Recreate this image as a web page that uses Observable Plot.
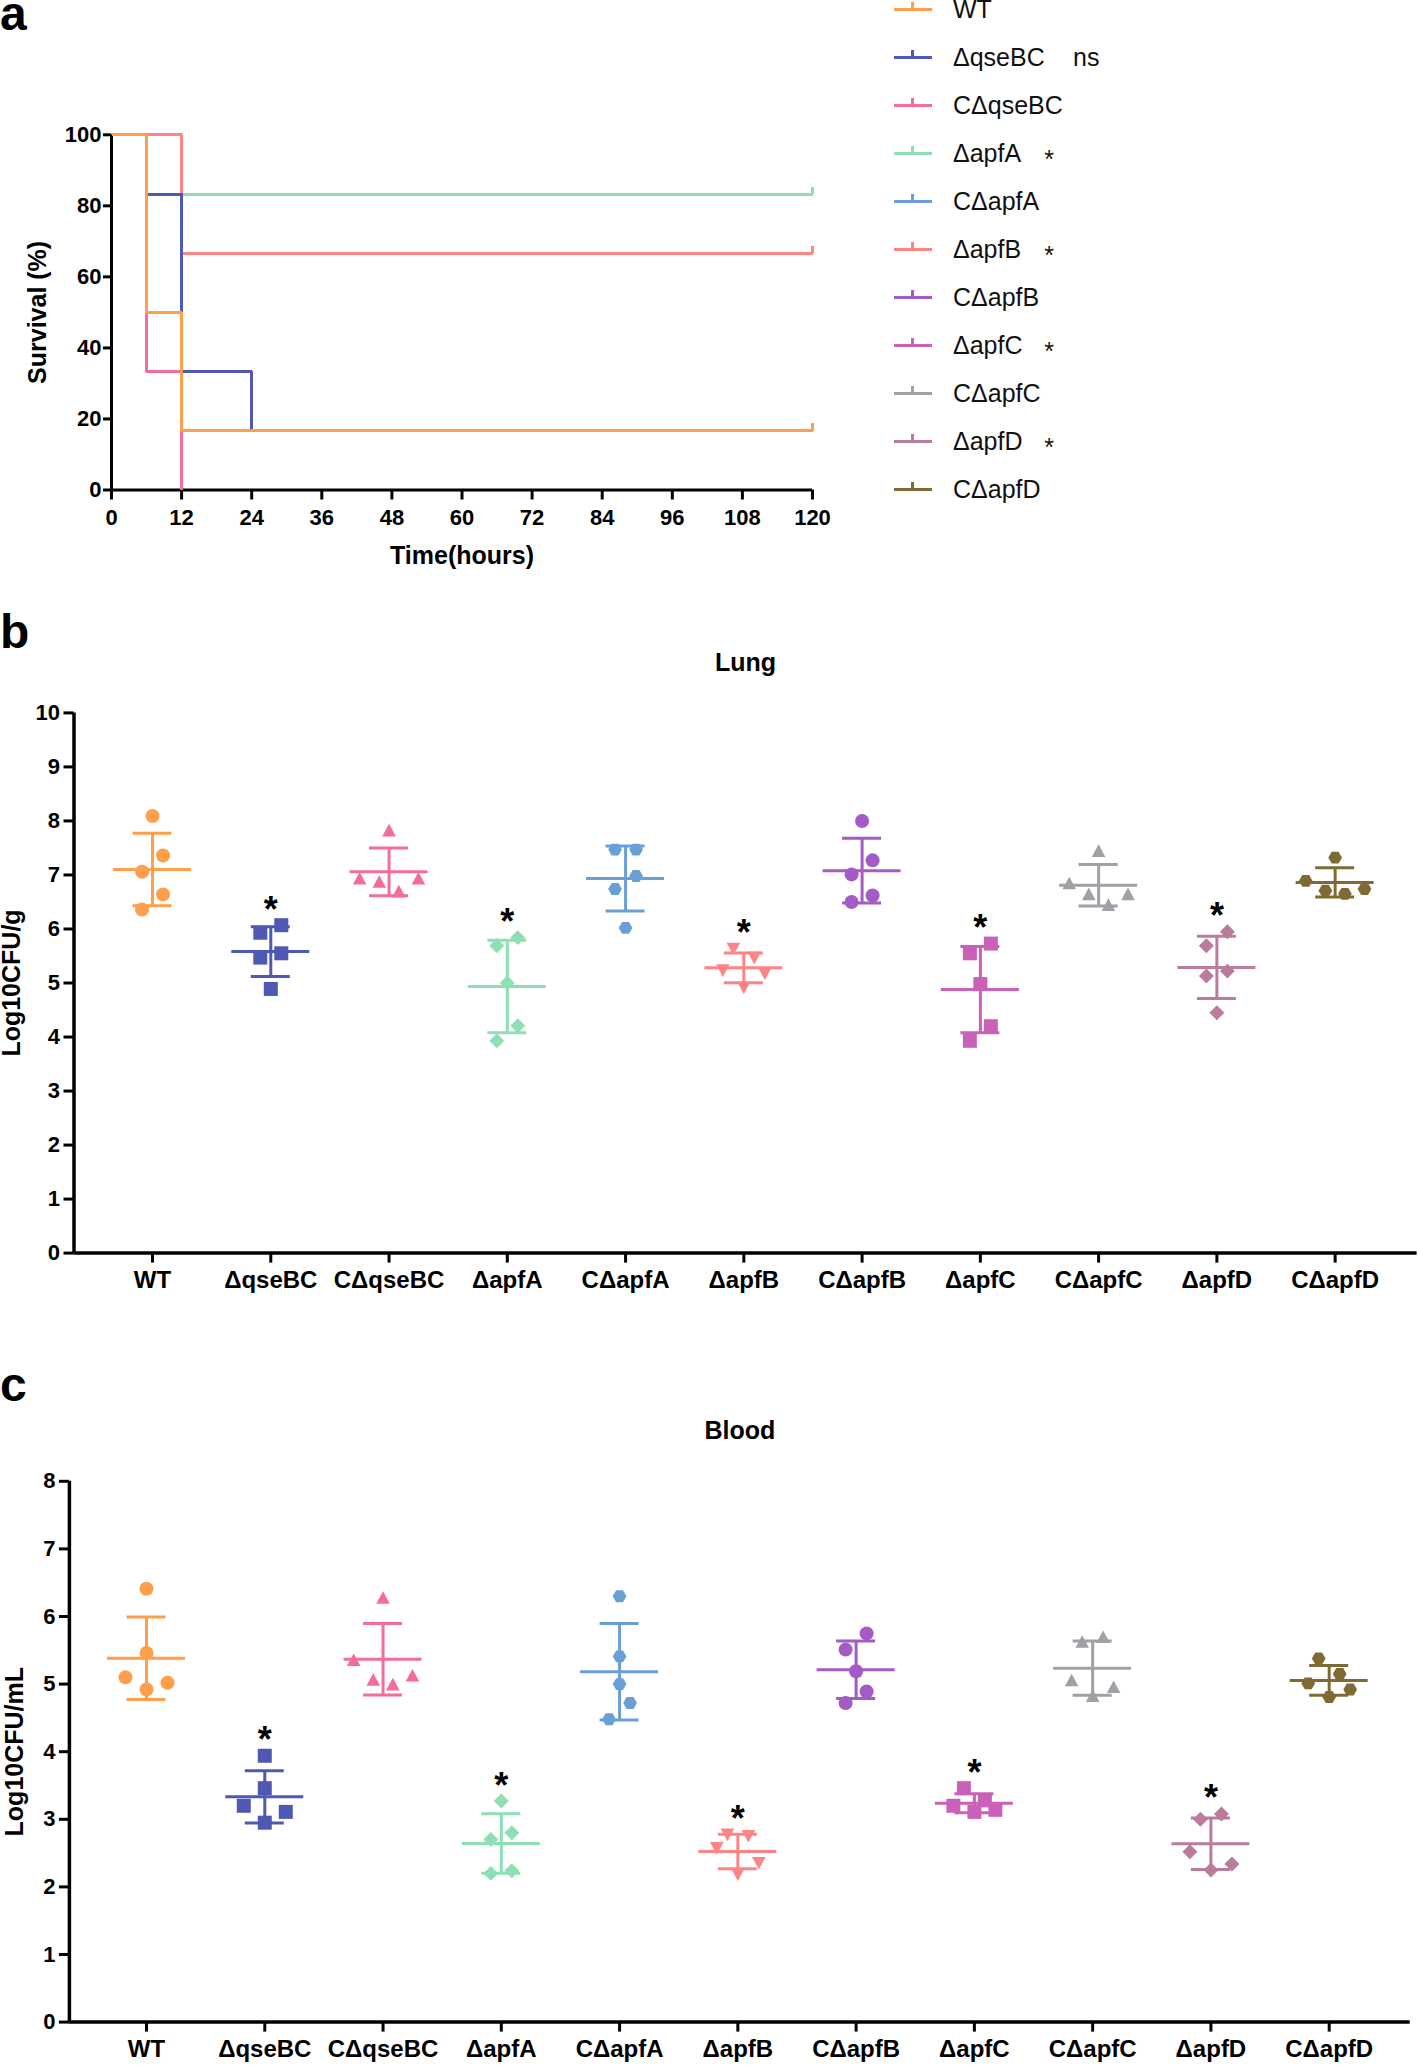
<!DOCTYPE html>
<html><head><meta charset="utf-8">
<script src="https://cdn.jsdelivr.net/npm/d3@7"></script>
<script src="https://cdn.jsdelivr.net/npm/@observablehq/plot@0.6"></script>
<style>
html,body{margin:0;padding:0;background:#fff;}
#page{position:relative;width:1418px;height:2065px;overflow:hidden;background:#fff;}
</style></head><body><div id="page"></div>
<script>
// ---------------- DATA ----------------
const groups = ["WT","ΔqseBC","CΔqseBC","ΔapfA","CΔapfA","ΔapfB","CΔapfB","ΔapfC","CΔapfC","ΔapfD","CΔapfD"];
const survivalSig = ["","ns","","*","","*","","*","","*",""];
const lungSig  = ["","*","","*","","*","","*","","*",""];
const bloodSig = ["","*","","*","","*","","*","","*",""];

// Kaplan–Meier steps [time (h), survival (%)]
const kmWT      = [[0,100],[6,50],[12,16.67],[120,16.67]];
const kmQseBC   = [[0,100],[6,83.33],[12,33.33],[24,16.67],[120,16.67]];
const kmCQseBC  = [[0,100],[6,33.33],[12,0]];
const kmApfA    = [[0,100],[6,83.33],[120,83.33]];
const kmCApfA   = [[0,100],[6,50],[12,16.67],[120,16.67]];
const kmApfB    = [[0,100],[12,66.67],[120,66.67]];
const kmCApfB   = [[0,100],[6,50],[12,16.67],[120,16.67]];
const kmApfC    = [[0,100],[6,83.33],[120,83.33]];
const kmCApfC   = [[0,100],[6,50],[12,16.67],[120,16.67]];
const kmApfD    = [[0,100],[12,66.67],[120,66.67]];
const kmCApfD   = [[0,100],[6,50],[12,16.67],[120,16.67]];
const timeTicks = [0,12,24,36,48,60,72,84,96,108,120];
const survTicks = [0,20,40,60,80,100];

// Log10 CFU per group (5 mice each)
const lungValues = [
  [8.09,7.36,7.06,6.64,6.36],
  [6.07,5.93,5.55,5.47,4.89],
  [7.83,6.94,6.94,6.88,6.70],
  [5.84,5.69,5.00,4.21,3.93],
  [7.47,7.47,6.98,6.74,6.02],
  [5.63,5.46,5.23,5.17,4.91],
  [8.00,7.27,7.01,6.62,6.50],
  [5.73,5.55,4.98,4.20,3.93],
  [7.45,6.85,6.65,6.65,6.45],
  [5.95,5.69,5.22,5.13,4.45],
  [7.32,6.89,6.74,6.71,6.65]
];
const bloodValues = [
  [6.41,5.46,5.10,5.02,4.92],
  [3.94,3.46,3.20,3.11,2.95],
  [6.28,5.36,5.13,5.07,5.00],
  [3.27,2.80,2.70,2.24,2.20],
  [6.30,5.41,5.00,4.72,4.48],
  [2.77,2.75,2.57,2.35,2.18],
  [5.75,5.51,5.19,4.89,4.72],
  [3.46,3.28,3.20,3.14,3.11],
  [5.70,5.63,5.06,4.96,4.83],
  [3.08,3.00,2.52,2.34,2.25],
  [5.38,5.15,5.01,4.92,4.81]
];
const lungTicks = [0,1,2,3,4,5,6,7,8,9,10];
const bloodTicks = [0,1,2,3,4,5,6,7,8];

// ---------------- STYLE ----------------
const colors = ["#ff9f4b","#4f58b2","#f36c9a","#8fdfb5","#6a9fd6","#ff8485","#a45bc6","#cb60b9","#a0a0a6","#b97c9c","#7e6a32"];
const symbolNames = ["circle","square","triangle","diamond","hexagon","triangleDown","circle","square","triangle","diamond","hexagon"];
const FONT = "'Liberation Sans', Arial, Helvetica, sans-serif";
const W = 1418;
const SYM = {
  circle:{draw(c,s){const r=Math.sqrt(s/Math.PI);c.moveTo(r,0);c.arc(0,0,r,0,2*Math.PI);}},
  square:{draw(c,s){const r=Math.sqrt(s/Math.PI);c.rect(-r,-r,2*r,2*r);}},
  triangle:{draw(c,s){const r=Math.sqrt(s/Math.PI),w=0.97*r,h=1.8*r;c.moveTo(0,-h/2);c.lineTo(w,h/2);c.lineTo(-w,h/2);c.closePath();}},
  triangleDown:{draw(c,s){const r=Math.sqrt(s/Math.PI),w=0.97*r,h=1.8*r;c.moveTo(0,h/2);c.lineTo(w,-h/2);c.lineTo(-w,-h/2);c.closePath();}},
  diamond:{draw(c,s){const r=Math.sqrt(s/Math.PI)*1.07;c.moveTo(0,-r);c.lineTo(r,0);c.lineTo(0,r);c.lineTo(-r,0);c.closePath();}},
  hexagon:{draw(c,s){const R=Math.sqrt(s/Math.PI)*0.98;for(let k=0;k<6;k++){const a=k*Math.PI/3;const x=R*Math.cos(a),y=R*Math.sin(a);k?c.lineTo(x,y):c.moveTo(x,y);}c.closePath();}}
};
const censorSym = {draw(c){c.moveTo(0,0);c.lineTo(0,-7.5);}};

const page = document.getElementById("page");
function place(el, left, top){el.style.position="absolute";el.style.left=left+"px";el.style.top=top+"px";page.appendChild(el);}

// ---------------- PANEL A ----------------
const kmSeries = [kmWT,kmQseBC,kmCQseBC,kmApfA,kmCApfA,kmApfB,kmCApfB,kmApfC,kmCApfC,kmApfD,kmCApfD];
const drawOrder = d3.range(groups.length).reverse();
const censor = [];
kmSeries.forEach((s,g)=>{const last=s[s.length-1]; if(last[0]===120 && last[1]>0) censor.push({g,t:last[0],v:last[1]});});
const censorOrdered = drawOrder.flatMap(g=>censor.filter(d=>d.g===g));

const plotA = Plot.plot({
  width: 850, height: 600,
  marginLeft: 111, marginRight: 38, marginTop: 134.3, marginBottom: 110.5,
  x: {domain:[0,120]}, y: {domain:[0,100]},
  color: {type:"identity"},
  style: {fontFamily: FONT, fontWeight: "bold", color: "#000", background: "none", overflow: "visible"},
  marks: [
    Plot.ruleX([0], {stroke:"#000", strokeWidth:3}),
    Plot.ruleY([0], {stroke:"#000", strokeWidth:3}),
    Plot.axisX({ticks: timeTicks, tickSize:10, tickPadding:9, fontSize:22, strokeWidth:3, label:null}),
    Plot.axisY({ticks: survTicks, tickSize:8, tickPadding:2, fontSize:22, strokeWidth:3, label:null}),
    ...drawOrder.map(g => Plot.line(kmSeries[g], {x:d=>d[0], y:d=>d[1], curve:"step-after", stroke:colors[g], strokeWidth:3, strokeLinejoin:"miter", strokeLinecap:"butt", shapeRendering:"crispEdges"})),
    Plot.dot(censorOrdered, {x:"t", y:"v", symbol: censorSym, stroke: d=>colors[d.g], fill:"none", strokeWidth:3, shapeRendering:"crispEdges"}),
    Plot.text(["Survival (%)"], {text:d=>d, frameAnchor:"left", textAnchor:"middle", lineAnchor:"middle", rotate:-90, dx:-74, fontSize:25}),
    Plot.text(["Time(hours)"], {text:d=>d, frameAnchor:"bottom", textAnchor:"middle", lineAnchor:"middle", dy:66, fontSize:25})
  ]
});
place(plotA, 0, 0);

// legend
const leg = d3.create("svg").attr("width",568).attr("height",520)
  .style("font-family",FONT).style("font-size","25px").style("overflow","visible");
groups.forEach((name,i)=>{
  const y = 9.3 + 48*i;
  leg.append("line").attr("x1",43.5).attr("x2",81.5).attr("y1",y).attr("y2",y).attr("stroke",colors[i]).attr("stroke-width",3).attr("shape-rendering","crispEdges");
  leg.append("line").attr("x1",62.7).attr("x2",62.7).attr("y1",y).attr("y2",y-7).attr("stroke",colors[i]).attr("stroke-width",3).attr("shape-rendering","crispEdges");
  leg.append("text").attr("x",103).attr("y",y).attr("dy","0.36em").attr("fill","#111").text(name);
  const s = survivalSig[i];
  if (s === "ns") leg.append("text").attr("x",223).attr("y",y).attr("dy","0.36em").attr("fill","#111").text(s);
  else if (s) leg.append("text").attr("x",199).attr("y",y).attr("dy","0.6em").attr("text-anchor","middle").attr("fill","#111").text(s);
});
place(leg.node(), 850, 0);

// ---------------- DOT PANELS ----------------
function dodge(vals, pxPerUnit){
  const u = 10.5, H = 16.5;
  const P = {1:[0], 2:[u,-u], 3:[-2*u,2*u,0], 4:[-2.8*u,2.8*u,-0.93*u,0.93*u], 5:[-u,u,-2*u,2*u,0]};
  const idx = d3.range(vals.length).sort((a,b)=>vals[b]-vals[a]);
  const off = new Array(vals.length).fill(0);
  let cl = [];
  const flush = ()=>{const p=P[cl.length]||cl.map((_,j)=>(j-(cl.length-1)/2)*2*u); cl.forEach((k,j)=>off[k]=p[j]); cl=[];};
  idx.forEach(k=>{ if(cl.length && (vals[cl[cl.length-1]]-vals[k])*pxPerUnit >= H) flush(); cl.push(k); });
  flush();
  return off;
}

function dotPanel(values, sig, o){
  const innerW = W - o.mL - o.mR, innerH = o.height - o.mT - o.mB;
  const stepPx = innerW/(o.xDom[1]-o.xDom[0]);
  const pxPerUnit = innerH/o.yMax;
  const stats = values.map((vals,g)=>{
    const mean=d3.mean(vals), sd=d3.deviation(vals);
    return {g, mean, lo:mean-sd, hi:mean+sd, top:Math.max(mean+sd,d3.max(vals)), sig:sig[g], c:colors[g]};
  });
  const hm = 39/stepPx, hc = 19.5/stepPx;
  const dotMarks = values.map((vals,g)=>{
    const off = dodge(vals, pxPerUnit);
    const pts = vals.map((v,k)=>({x:g+off[k]/stepPx, v}));
    return Plot.dot(pts, {x:"x", y:"v", r:7, symbol:SYM[symbolNames[g]], fill:colors[g], stroke:"none"});
  });
  return Plot.plot({
    width: W, height: o.height,
    marginLeft: o.mL, marginRight: o.mR, marginTop: o.mT, marginBottom: o.mB,
    x: {domain: o.xDom}, y: {domain:[0,o.yMax]},
    color: {type:"identity"},
    style: {fontFamily: FONT, fontWeight: "bold", color: "#000", background: "none", overflow: "visible"},
    marks: [
      Plot.ruleY([0], {stroke:"#000", strokeWidth:3.5}),
      Plot.ruleX([o.xDom[0]], {stroke:"#000", strokeWidth:3.5}),
      Plot.axisY({ticks:o.yTicks, tickSize:10, tickPadding:4, fontSize:22, strokeWidth:3, label:null}),
      Plot.axisX({ticks:d3.range(groups.length), tickFormat:i=>groups[i], tickSize:10, tickPadding:8, fontSize:24, strokeWidth:3, label:null}),
      Plot.ruleX(stats, {x:"g", y1:"lo", y2:"hi", stroke:"c", strokeWidth:3}),
      Plot.ruleY(stats, {y:"mean", x1:d=>d.g-hm, x2:d=>d.g+hm, stroke:"c", strokeWidth:3}),
      Plot.ruleY(stats, {y:"hi", x1:d=>d.g-hc, x2:d=>d.g+hc, stroke:"c", strokeWidth:3}),
      Plot.ruleY(stats, {y:"lo", x1:d=>d.g-hc, x2:d=>d.g+hc, stroke:"c", strokeWidth:3}),
      ...dotMarks,
      Plot.text(stats.filter(d=>d.sig), {x:"g", y:"top", text:"sig", dy:-15, fontSize:36, fill:"#000"}),
      Plot.text([o.title], {text:d=>d, frameAnchor:"top", textAnchor:"middle", lineAnchor:"middle", dy:o.titleDy, fontSize:25}),
      Plot.text([o.yLabel], {text:d=>d, frameAnchor:"left", textAnchor:"middle", lineAnchor:"middle", rotate:-90, dx:o.yLabelDx, fontSize:25})
    ]
  });
}

const plotB = dotPanel(lungValues, lungSig, {
  height:700, mL:73.5, mR:1.4, mT:112.4, mB:47.4, xDom:[-0.664,10.693], yMax:10, yTicks:lungTicks,
  title:"Lung", titleDy:-50, yLabel:"Log10CFU/g", yLabelDx:-62
});
place(plotB, 0, 600);

const plotC = dotPanel(bloodValues, bloodSig, {
  height:695, mL:68.9, mR:8.3, mT:110.8, mB:43.4, xDom:[-0.652,10.685], yMax:8, yTicks:bloodTicks,
  title:"Blood", titleDy:-50, yLabel:"Log10CFU/mL", yLabelDx:-54
});
place(plotC, 0, 1370);

// panel letters
const ov = d3.create("svg").attr("width",W).attr("height",2065)
  .style("font-family",FONT).style("font-weight","bold").style("font-size","48px").style("pointer-events","none");
[["a",30],["b",648],["c",1401]].forEach(([t,y])=>ov.append("text").attr("x",0).attr("y",y).attr("fill","#000").text(t));
place(ov.node(), 0, 0);
</script></body></html>
